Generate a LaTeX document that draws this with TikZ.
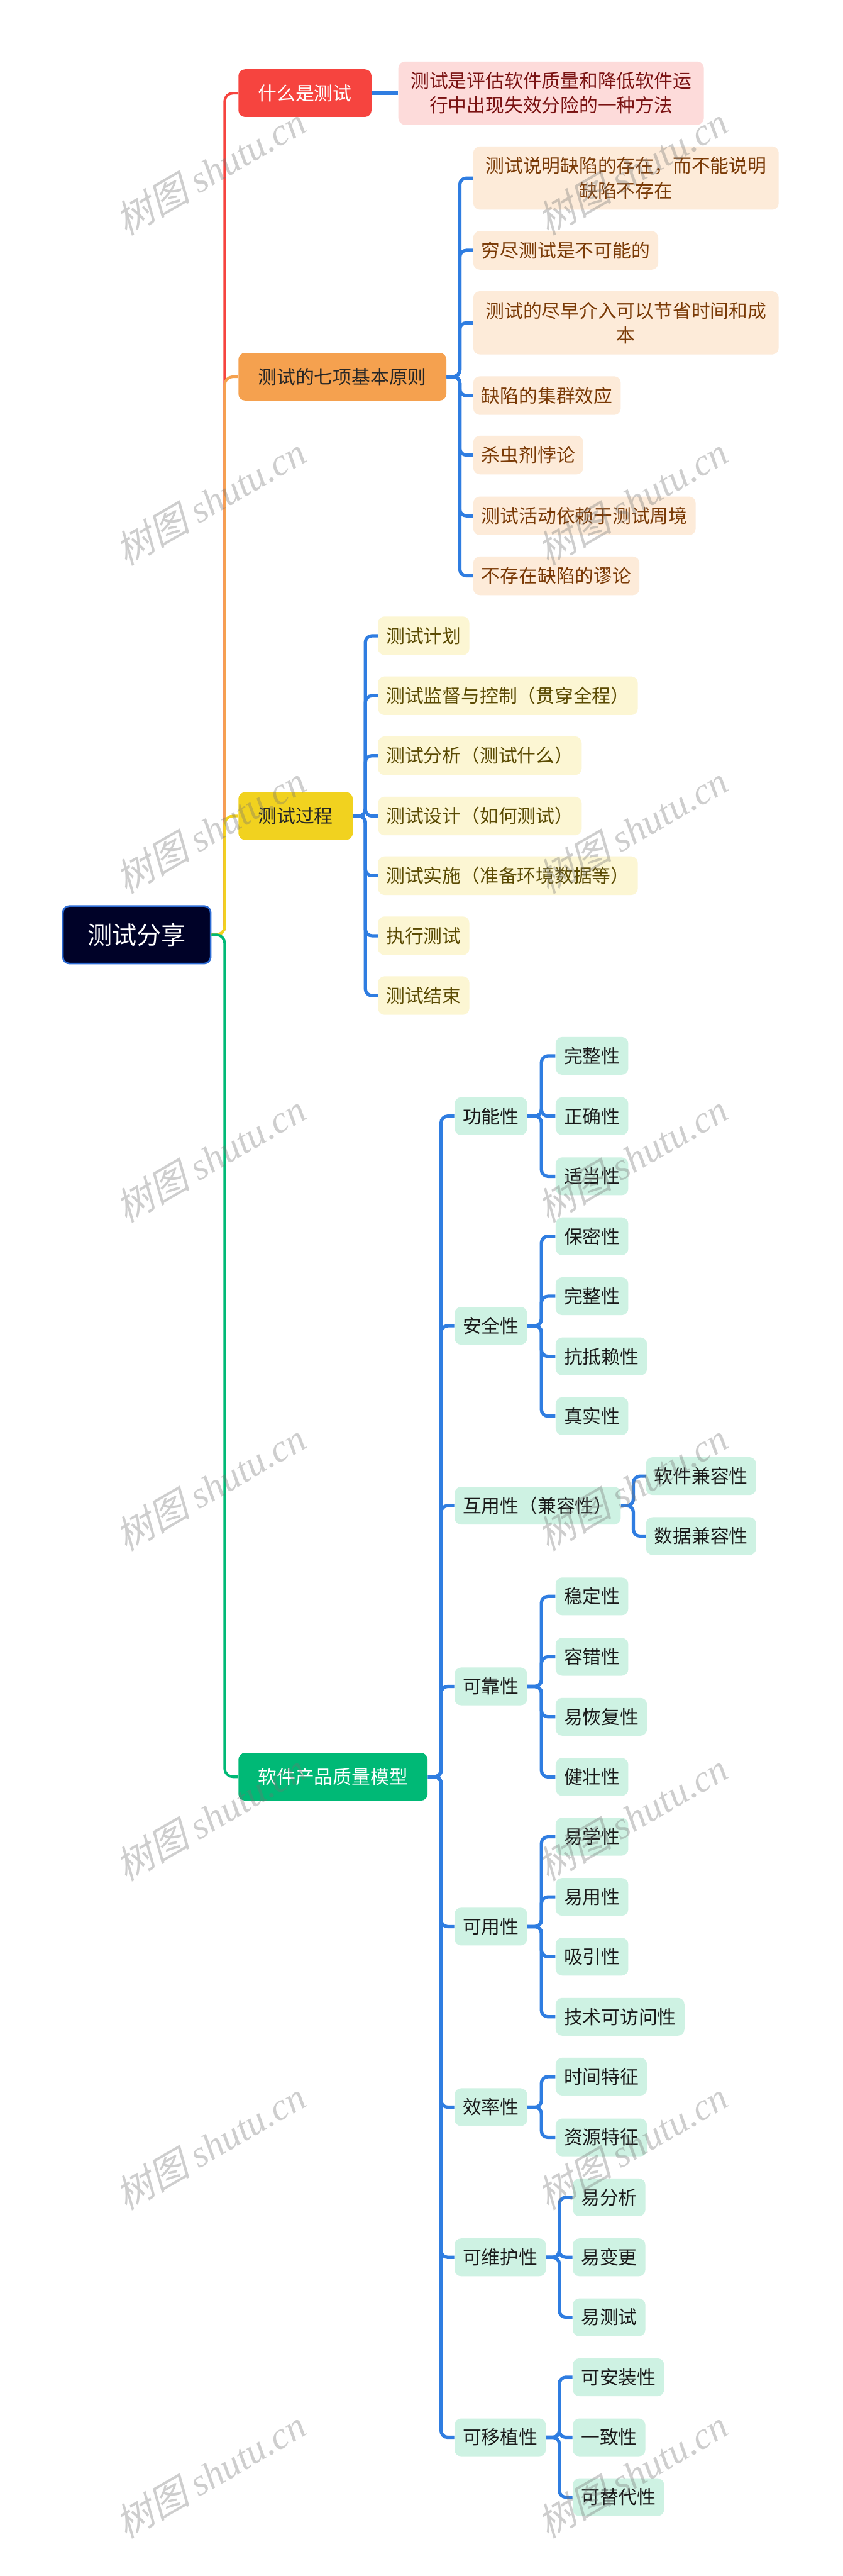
\documentclass[tikz,border=0pt]{standalone}
\usepackage{fontspec}
\setmainfont{Noto Sans CJK SC}
\newfontfamily\wmcjk[FakeSlant=0.25]{Noto Sans CJK SC}
\newfontfamily\wmlat{Liberation Serif}
\usetikzlibrary{calc}
\definecolor{cred}{HTML}{F6443F}
\definecolor{corange}{HTML}{F5A14F}
\definecolor{cyellow}{HTML}{F1D21F}
\definecolor{cgreen}{HTML}{00B976}
\definecolor{cpink}{HTML}{FDDBDA}
\definecolor{cpinktext}{HTML}{7A1212}
\definecolor{cpeach}{HTML}{FDEBD9}
\definecolor{cpeachtext}{HTML}{7A3A06}
\definecolor{clyellow}{HTML}{FCF6D3}
\definecolor{clyellowtext}{HTML}{5B4B03}
\definecolor{cmint}{HTML}{CEF2E3}
\definecolor{cminttext}{HTML}{1A1A1A}
\definecolor{cblue}{HTML}{2F7DE1}
\definecolor{crootfill}{HTML}{000228}
\definecolor{crootborder}{HTML}{2C6BD4}
\tikzset{
  base/.style={rounded corners=4pt, inner ysep=0pt, font=\fontsize{11.4}{15}\selectfont},
  rootbox/.style={rounded corners=4pt, fill=crootfill, draw=crootborder, line width=1pt,
     text=white, minimum width=90pt, minimum height=35pt, inner xsep=0pt,
     font=\fontsize{15}{18}\selectfont},
  lone/.style={base, minimum height=29pt, inner xsep=12pt},
  pinkbox/.style={base, fill=cpink, text=cpinktext, text width=172pt, align=center,
     minimum height=38.5pt, inner xsep=7pt},
  peachbox/.style={base, fill=cpeach, text=cpeachtext, minimum height=23.5pt, inner xsep=5pt},
  peachtwo/.style={peachbox, text width=172pt, align=center, minimum height=38.5pt, inner xsep=7pt},
  ybox/.style={base, fill=clyellow, text=clyellowtext, minimum height=23.5pt, inner xsep=5pt},
  mbox/.style={base, fill=cmint, text=cminttext, minimum height=23pt, inner xsep=5pt},
  conn/.style={draw=cblue, line width=2pt, rounded corners=4pt},
  trunk/.style={line width=1.6pt, rounded corners=5pt},
  wm/.style={text=black!55, text opacity=0.35, rotate=30, font=\fontsize{23}{25}\selectfont}
}
\newcommand\kid[6]{%
  \coordinate (#2x) at ([xshift=#6pt]#3.east);
  \node[#1, anchor=west] (#2) at (#2x |- 0,#4) {#5};
  \draw[conn] (#3.east) -- ++(#6/2,0) |- (#2.west);
}
\begin{document}
\begin{tikzpicture}[x=1pt,y=-1pt]
\useasboundingbox (0,0) rectangle (513,1568);
\fill[white] (0,0) rectangle (513,1568);

% root
\node[rootbox] (root) at (83.3,569) {测试分享};

% level 1
\node[lone, fill=cred, text=white, anchor=west] (n1) at (145,56.7) {什么是测试};
\node[lone, fill=corange, text=black!85, anchor=west] (n2) at (145,229.3) {测试的七项基本原则};
\node[lone, fill=cyellow, text=black!85, anchor=west] (n3) at (145,496.7) {测试过程};
\node[lone, fill=cgreen, text=white, anchor=west] (n4) at (145,1081.5) {软件产品质量模型};

\draw[trunk, draw=cred] (root.east) -- ++(8,0) |- (n1.west);
\draw[trunk, draw=corange] (root.east) -- ++(8,0) |- (n2.west);
\draw[trunk, draw=cyellow] (root.east) -- ++(8,0) |- (n3.west);
\draw[trunk, draw=cgreen] (root.east) -- ++(8,0) |- (n4.west);

% 什么是测试
\node[pinkbox, anchor=west] (a1) at ([xshift=16pt]n1.east) {测试是评估软件质量和降低软件运\\行中出现失效分险的一种方法};
\draw[conn] (n1.east) -- (n1.east -| a1.west);

% 七项基本原则
\kid{peachtwo}{b1}{n2}{108.4}{测试说明缺陷的存在，而不能说明\\缺陷不存在}{16}
\kid{peachbox}{b2}{n2}{152.4}{穷尽测试是不可能的}{16}
\kid{peachtwo}{b3}{n2}{196.5}{测试的尽早介入可以节省时间和成\\本}{16}
\kid{peachbox}{b4}{n2}{240.8}{缺陷的集群效应}{16}
\kid{peachbox}{b5}{n2}{277}{杀虫剂悖论}{16}
\kid{peachbox}{b6}{n2}{314}{测试活动依赖于测试周境}{16}
\kid{peachbox}{b7}{n2}{350.5}{不存在缺陷的谬论}{16}

% 测试过程
\kid{ybox}{c1}{n3}{387}{测试计划}{15}
\kid{ybox}{c2}{n3}{423.5}{测试监督与控制（贯穿全程）}{15}
\kid{ybox}{c3}{n3}{460}{测试分析（测试什么）}{15}
\kid{ybox}{c4}{n3}{496.7}{测试设计（如何测试）}{15}
\kid{ybox}{c5}{n3}{533}{测试实施（准备环境数据等）}{15}
\kid{ybox}{c6}{n3}{569.6}{执行测试}{15}
\kid{ybox}{c7}{n3}{606}{测试结束}{15}

% 软件产品质量模型
\kid{mbox}{d1}{n4}{679.4}{功能性}{16}
\kid{mbox}{d2}{n4}{807}{安全性}{16}
\kid{mbox}{d3}{n4}{916.5}{互用性（兼容性）}{16}
\kid{mbox}{d4}{n4}{1026.5}{可靠性}{16}
\kid{mbox}{d5}{n4}{1172.7}{可用性}{16}
\kid{mbox}{d6}{n4}{1282.6}{效率性}{16}
\kid{mbox}{d7}{n4}{1374}{可维护性}{16}
\kid{mbox}{d8}{n4}{1483.6}{可移植性}{16}

\kid{mbox}{e11}{d1}{642.7}{完整性}{17}
\kid{mbox}{e12}{d1}{679.4}{正确性}{17}
\kid{mbox}{e13}{d1}{716}{适当性}{17}

\kid{mbox}{e21}{d2}{752.5}{保密性}{17}
\kid{mbox}{e22}{d2}{789}{完整性}{17}
\kid{mbox}{e23}{d2}{825.6}{抗抵赖性}{17}
\kid{mbox}{e24}{d2}{862}{真实性}{17}

\kid{mbox}{e31}{d3}{898.5}{软件兼容性}{15}
\kid{mbox}{e32}{d3}{935}{数据兼容性}{15}

\kid{mbox}{e41}{d4}{971.7}{稳定性}{17}
\kid{mbox}{e42}{d4}{1008.5}{容错性}{17}
\kid{mbox}{e43}{d4}{1045}{易恢复性}{17}
\kid{mbox}{e44}{d4}{1081.6}{健壮性}{17}

\kid{mbox}{e51}{d5}{1118}{易学性}{17}
\kid{mbox}{e52}{d5}{1154.6}{易用性}{17}
\kid{mbox}{e53}{d5}{1191}{吸引性}{17}
\kid{mbox}{e54}{d5}{1227.6}{技术可访问性}{17}

\kid{mbox}{e61}{d6}{1264}{时间特征}{17}
\kid{mbox}{e62}{d6}{1301}{资源特征}{17}

\kid{mbox}{e71}{d7}{1337.5}{易分析}{16}
\kid{mbox}{e72}{d7}{1374}{易变更}{16}
\kid{mbox}{e73}{d7}{1410.5}{易测试}{16}

\kid{mbox}{e81}{d8}{1447}{可安装性}{16}
\kid{mbox}{e82}{d8}{1483.6}{一致性}{16}
\kid{mbox}{e83}{d8}{1520}{可替代性}{16}

% watermarks
\foreach \yy [count=\i] in {104,305,505,705,905,1106,1306,1506}{
  \node[wm] (wl\i) at (128,\yy) {{\wmcjk 树图} {\wmlat\itshape shutu.cn}};
  \node[wm] (wr\i) at (385,\yy) {{\wmcjk 树图} {\wmlat\itshape shutu.cn}};
}
\end{tikzpicture}
\end{document}
